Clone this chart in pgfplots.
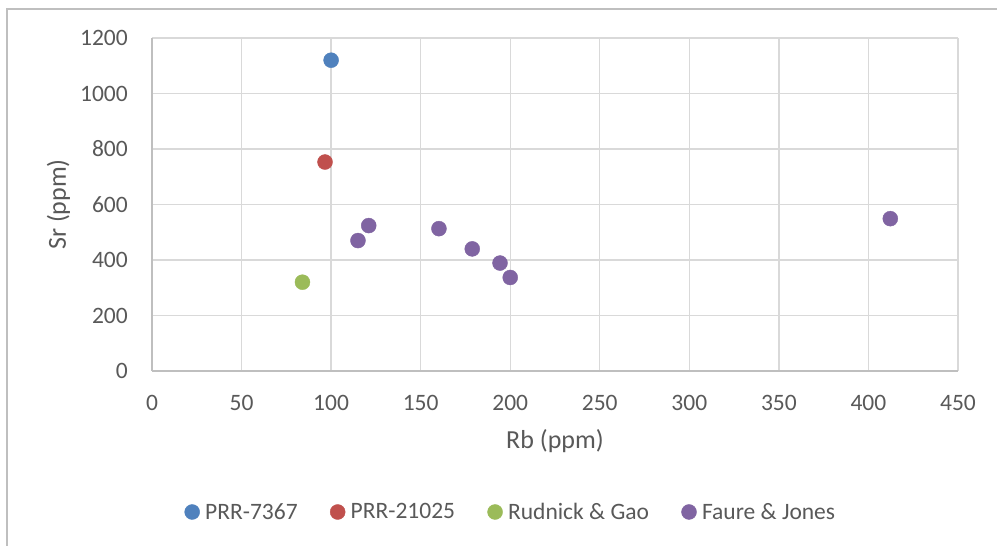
\documentclass[border=0pt]{standalone}
\usepackage{fontspec}
\setmainfont{Carlito}
\usepackage{pgfplots}
\pgfplotsset{compat=1.18}
\definecolor{txt}{HTML}{595959}
\definecolor{gridc}{HTML}{D9D9D9}
\definecolor{axc}{HTML}{BFBFBF}
\definecolor{cblue}{HTML}{4F81BD}
\definecolor{cred}{HTML}{C0504D}
\definecolor{cgreen}{HTML}{9BBB59}
\definecolor{cpurple}{HTML}{8064A2}
\begin{document}
\begin{tikzpicture}
\useasboundingbox (0pt,0pt) rectangle (997pt,546pt);
\fill[white] (0pt,0pt) rectangle (997pt,546pt);
\draw[axc, line width=1.3pt] (7pt,-2pt) -- (7pt,537pt) -- (999pt,537pt);
\begin{axis}[
  at={(152pt,175pt)}, anchor=south west,
  scale only axis, width=806pt, height=333pt,
  xmin=0, xmax=450, ymin=0, ymax=1200,
  xtick={0,50,...,450}, ytick={0,200,...,1200},
  grid=major,
  major grid style={gridc, line width=1.3pt},
  axis lines*=left,
  axis line style={axc, line width=1.3pt, -},
  major tick length=0pt,
  /pgf/number format/assume math mode=true,
  /pgf/number format/1000 sep={},
  tick label style={font=\fontsize{23.5}{28}\selectfont, text=txt, inner sep=0pt},
  xticklabel style={anchor=north, yshift=-24pt},
  yticklabel style={anchor=east, xshift=-24pt},
  xlabel={Rb (ppm)}, ylabel={Sr (ppm)},
  label style={font=\fontsize{26}{30}\selectfont, text=txt, inner sep=0pt},
  xlabel style={at={(axis description cs:0.5,-0.2342)}, anchor=base},
  ylabel style={at={(axis description cs:-0.1067,0.5)}, anchor=base, rotate=0},
  legend columns=4,
  legend style={at={(axis description cs:0.0403,-0.4234)}, anchor=west,
    draw=none, fill=none, inner sep=0pt,
    font=\fontsize{23.5}{28}\selectfont, text=txt,
    nodes={inner sep=0pt},
    /tikz/every odd column/.append style={column sep=5.5pt},
    /tikz/every even column/.append style={column sep=32.5pt}},
  legend image code/.code={\draw[mark repeat=2,mark phase=2,#1] plot coordinates {(0pt,0pt) (7.5pt,0pt) (15pt,0pt)};},
  every axis plot/.append style={only marks, mark=*, mark size=7.5pt},
]
\addplot[cblue, mark options={fill=cblue, draw=cblue}] coordinates {(100,1120)};
\addlegendentry{PRR-7367}
\addplot[cred, mark options={fill=cred, draw=cred}] coordinates {(96.6,753)};
\addlegendentry{PRR-21025}
\addplot[cgreen, mark options={fill=cgreen, draw=cgreen}] coordinates {(84,320)};
\addlegendentry{Rudnick \& Gao}
\addplot[cpurple, mark options={fill=cpurple, draw=cpurple}] coordinates {
(115,470) (121,524) (160.2,513) (178.8,440) (194.3,389) (200,337) (412.2,549)};
\addlegendentry{Faure \& Jones}
\end{axis}
\end{tikzpicture}
\end{document}
